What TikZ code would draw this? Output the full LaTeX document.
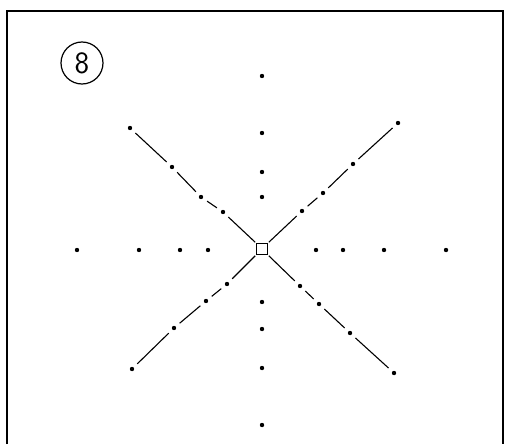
\documentclass[tikz,border=0pt]{standalone}
\usepackage{tikz}
\usetikzlibrary{positioning}

\begin{document}
\begin{tikzpicture}[x=1pt, y=-1pt,
    dot/.style={circle, fill=black, inner sep=0pt, minimum size=4.4pt},
    seg/.style={line width=1.1pt, shorten <=5pt, shorten >=5pt},
    spot/.style={draw, line width=1.1pt, inner sep=0pt, minimum size=11pt}]
    \useasboundingbox (0,0) rectangle (505,444);
    % Rahmen
    \draw[line width=1.6pt] (7,444) -- (7,11) -- (503,11) -- (503,444);

    % Nummer
    \node[draw, circle, line width=1.2pt, minimum size=42pt, inner sep=0pt,
          font=\sffamily\fontsize{31}{31}\selectfont] (num) at (82,63) {8};

    % Mitte
    \node[spot] (c) at (262,249) {};

    % senkrechte und waagrechte Punkte
    \foreach \y [count=\i] in {76,133,172,197,302,329,368,425}
        \node[dot] (v\i) at (262,\y) {};
    \foreach \x [count=\i] in {77,139,180,208,316,343,384,446}
        \node[dot] (h\i) at (\x,250) {};

    % Diagonalen
    \node[dot] (a1) at (130,128) {};
    \node[dot] (a2) at (172,167) {};
    \node[dot] (a3) at (201,197) {};
    \node[dot] (a4) at (223,212) {};

    \node[dot] (b1) at (398,123) {};
    \node[dot] (b2) at (353,164) {};
    \node[dot] (b3) at (323,193) {};
    \node[dot] (b4) at (302,211) {};

    \node[dot] (d1) at (132,369) {};
    \node[dot] (d2) at (174,328) {};
    \node[dot] (d3) at (206,301) {};
    \node[dot] (d4) at (227,284) {};

    \node[dot] (e1) at (394,373) {};
    \node[dot] (e2) at (350,333) {};
    \node[dot] (e3) at (319,304) {};
    \node[dot] (e4) at (300,286) {};

    \foreach \n in {a,b,d,e} {
        \draw[seg] (\n1) -- (\n2);
        \draw[seg] (\n2) -- (\n3);
        \draw[seg] (\n3) -- (\n4);
    }
    \draw[seg, shorten >=1pt] (a4) -- (c.north west);
    \draw[seg, shorten >=1pt] (b4) -- (c.north east);
    \draw[seg, shorten >=1pt] (d4) -- (c.south west);
    \draw[seg, shorten >=1pt] (e4) -- (c.south east);
\end{tikzpicture}
\end{document}
